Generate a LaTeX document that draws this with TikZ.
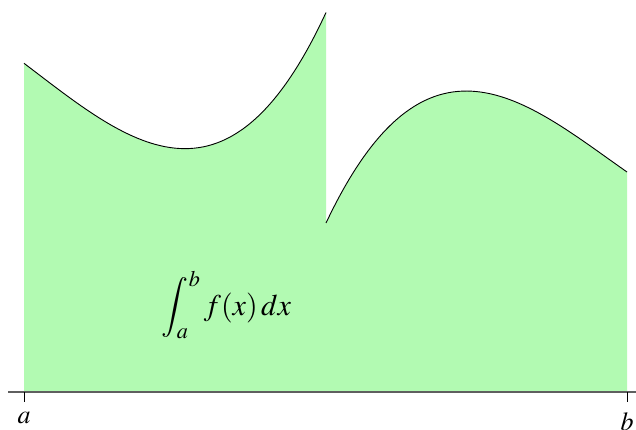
\documentclass[tikz,border=0pt]{standalone}
\usepackage{mathptmx}
\definecolor{areagreen}{RGB}{178,250,178}
\definecolor{axisgray}{RGB}{95,95,95}
\begin{document}
\begin{tikzpicture}[x=1pt,y=-1pt,
  curve/.style={draw=black,line width=0.9pt},
  area/.style={fill=areagreen,draw=none},
  axisline/.style={draw=axisgray,line width=1.1pt},
  tick/.style={draw=black,line width=0.9pt},
  lbl/.style={font=\fontsize{26}{30}\selectfont,inner sep=0pt},
  formula/.style={font=\fontsize{30}{36}\selectfont,inner sep=0pt}]
\useasboundingbox (0,0) rectangle (636,430);
% filled areas
\fill[area] (24,391.5) -- (24,63.3) .. controls (124.67,139.4) and (225.33,230.4) .. (326,12.5) -- (326,391.5) -- cycle;
\fill[area] (326,391.5) -- (326,223) .. controls (426.33,10.73) and (526.67,101.76) .. (627,172) -- (627,391.5) -- cycle;
% curves
\coordinate (l0) at (24,63.3);
\coordinate (l1) at (326,12.5);
\coordinate (r0) at (326,223);
\coordinate (r1) at (627,172);
\draw[curve] (l0) .. controls (124.67,139.4) and (225.33,230.4) .. (l1);
\draw[curve] (r0) .. controls (426.33,10.73) and (526.67,101.76) .. (r1);
% axis
\coordinate (axL) at (8,392);
\coordinate (axR) at (636,392);
\draw[axisline] (axL) -- (axR);
\coordinate (ta) at (24,392);
\coordinate (tb) at (627,392);
\draw[tick] (ta) -- ++(0,10) coordinate (ta2);
\draw[tick] (tb) -- ++(0,10) coordinate (tb2);
\node[lbl,anchor=north,yshift=-10pt] (la) at (ta2) {$a$};
\node[lbl,anchor=north,yshift=-10pt] (lb) at (tb2) {$b$};
% integral label
\node[formula] (int) at (226.5,305) {$\displaystyle\int_a^b f(x)\,dx$};
\end{tikzpicture}
\end{document}
